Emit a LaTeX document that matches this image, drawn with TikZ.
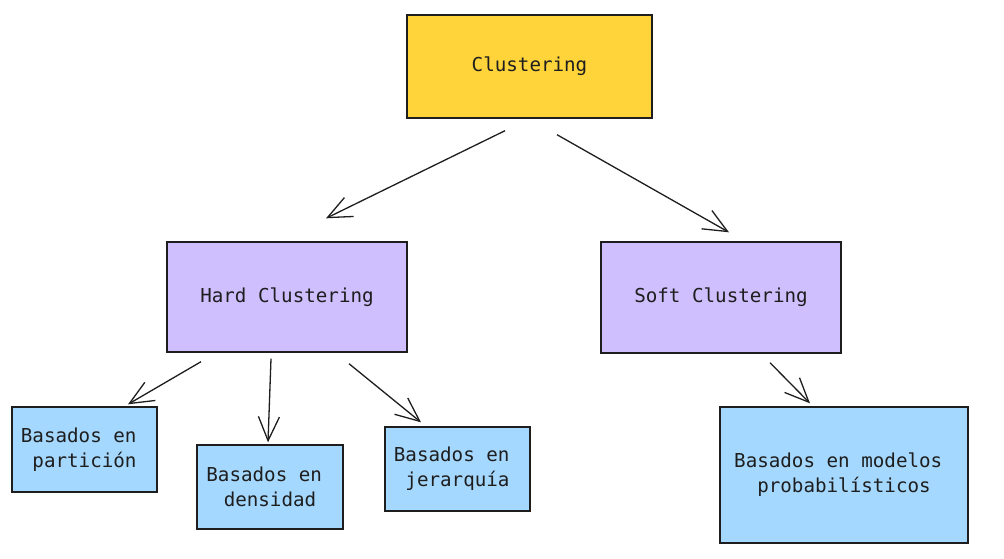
\documentclass[tikz,border=0pt]{standalone}
\usepackage{fontspec}
\newfontfamily\mono{DejaVu Sans Mono}
\usetikzlibrary{arrows.meta}
\definecolor{ink}{HTML}{1E1E1E}
\definecolor{cyellow}{HTML}{FFD43B}
\definecolor{cpurple}{HTML}{D0BFFF}
\definecolor{cblue}{HTML}{A5D8FF}
\tikzset{
  box/.style={draw=ink, line width=1.4pt, inner sep=0pt, text=ink,
    font=\mono\fontsize{19.2}{25}\selectfont, align=center},
  conn/.style={draw=ink, line width=1.3pt,
    -{Straight Barb[length=24pt,width=21pt,line width=1.3pt]}}
}
\begin{document}
\begin{tikzpicture}[x=1pt,y=-1pt]
\useasboundingbox (0,0) rectangle (1004,558);
\fill[white] (0,0) rectangle (1004,558);
\node[box, fill=cyellow, minimum width=245pt, minimum height=103pt] (clu) at (529.5,66.5) {Clustering};
\node[box, fill=cpurple, minimum width=240pt, minimum height=110pt] (hard) at (287,297) {Hard Clustering};
\node[box, fill=cpurple, minimum width=240pt, minimum height=111pt] (soft) at (721,297.5) {Soft Clustering};
\node[box, fill=cblue, minimum width=145pt, minimum height=85pt] (part) at (84.5,449.5) {Basados en\phantom{ }\\partición};
\node[box, fill=cblue, minimum width=146pt, minimum height=84pt] (dens) at (270,487) {Basados en\phantom{ }\\densidad};
\node[box, fill=cblue, minimum width=145pt, minimum height=84pt] (jer) at (457.5,469) {Basados en\phantom{ }\\jerarquía};
\node[box, fill=cblue, minimum width=248pt, minimum height=136pt] (prob) at (844,475) {Basados en modelos\phantom{ }\\probabilísticos};
\draw[conn] ([xshift=-24.5pt,yshift=-12pt]clu.south) -- ([xshift=39pt,yshift=23pt]hard.north);
\draw[conn] ([xshift=27.5pt,yshift=-16pt]clu.south) -- ([xshift=8pt,yshift=9pt]soft.north);
\draw[conn] ([xshift=-86pt,yshift=-9pt]hard.south) -- ([xshift=43.5pt,yshift=2pt]part.north);
\draw[conn] ([xshift=-16pt,yshift=-6pt]hard.south) -- ([xshift=-2pt,yshift=2pt]dens.north);
\draw[conn] ([xshift=62pt,yshift=-11pt]hard.south) -- ([xshift=-36.5pt,yshift=4pt]jer.north);
\draw[conn] ([xshift=49pt,yshift=-9pt]soft.south) -- ([xshift=-34pt,yshift=3pt]prob.north);
\end{tikzpicture}
\end{document}
